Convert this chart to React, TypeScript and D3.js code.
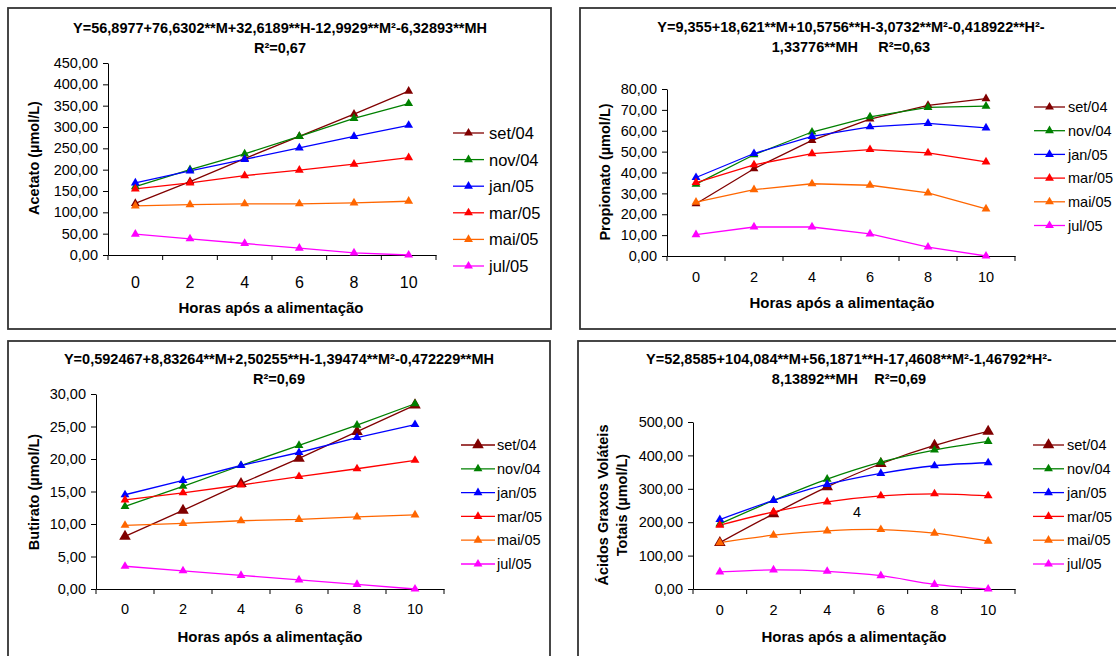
import { useEffect, useRef } from "react";
import * as d3 from "d3";

const hours = ["0", "2", "4", "6", "8", "10"];
const months = ["set/04", "nov/04", "jan/05", "mar/05", "mai/05", "jul/05"];
const monthColors = ["#800000", "#008000", "#0000ff", "#ff0000", "#ff6600", "#ff00ff"];

// one row per month, one value per hour after feeding
const acetato = [
  [121, 172, 226, 278, 330, 384],
  [160, 200, 237, 278, 320, 355],
  [169, 197, 224, 251, 278, 304],
  [155, 169, 186, 199, 213, 228],
  [115, 118, 120, 120, 122, 126],
  [49, 38, 27, 16, 5, 0],
];

const propionato = [
  [25, 41.8, 55.4, 65.6, 72.2, 75.4],
  [34.4, 48.5, 59.4, 66.7, 71.2, 71.8],
  [37.6, 49.1, 57.3, 61.9, 63.5, 61.4],
  [35.2, 43.7, 49, 51, 49.4, 45.1],
  [25.8, 31.8, 34.6, 33.9, 30.2, 22.6],
  [10.2, 13.9, 13.9, 10.6, 4.3, 0],
];

const butirato = [
  [8.1, 12.1, 16.2, 20.1, 24.2, 28.3],
  [12.7, 15.8, 19, 22.1, 25.2, 28.5],
  [14.5, 16.7, 19, 21, 23.3, 25.3],
  [13.7, 14.8, 16, 17.3, 18.5, 19.8],
  [9.8, 10.1, 10.5, 10.7, 11.1, 11.4],
  [3.5, 2.8, 2.1, 1.4, 0.7, 0],
];

const agvTotais = [
  [139, 225, 306, 375, 430, 472],
  [195, 265, 329, 380, 416, 442],
  [208, 265, 313, 346, 369, 378],
  [191, 231, 261, 279, 285, 279],
  [139, 161, 174, 178, 167, 143],
  [51, 57, 53, 40, 14, 0],
];

const FONT = "'Liberation Sans', Arial, Helvetica, sans-serif";
const br = d3.formatLocale({ decimal: ",", thousands: ".", grouping: [3], currency: ["R$", ""] });
const fmt = br.format(".2f");

const panels = [
  {
    values: acetato, yMax: 450, step: 50,
    frame: [8, 8, 543, 321],
    left: 108, right: 436, top: 63, bottom: 255,
    title: ["Y=56,8977+76,6302**M+32,6189**H-12,9929**M²-6,32893**MH", "R²=0,67"],
    titleX: 280, titleY: 28,
    yTitle: ["Acetato (µmol/L)"], yTitleX: 34, yTitleY: 158,
    xLabelY: 282, xTickSize: 16, xTitleX: 271, xTitleY: 308,
    legend: { x1: 453, x2: 484, tx: 489, y: 133, dy: 26.6, size: 16.5 },
    smooth: false, bigFirst: false,
  },
  {
    values: propionato, yMax: 80, step: 10,
    frame: [580, 8, 620, 321],
    left: 667, right: 1015, top: 89, bottom: 256,
    title: ["Y=9,355+18,621**M+10,5756**H-3,0732**M²-0,418922**H²-", "1,33776**MH     R²=0,63"],
    titleX: 851, titleY: 27,
    yTitle: ["Propionato (µmol/L)"], yTitleX: 605, yTitleY: 172,
    xLabelY: 277, xTickSize: 14.5, xTitleX: 842, xTitleY: 303,
    legend: { x1: 1034, x2: 1065, tx: 1068, y: 107, dy: 23.7, size: 14.5 },
    smooth: false, bigFirst: false,
  },
  {
    values: butirato, yMax: 30, step: 5,
    frame: [8, 341, 542, 400],
    left: 96, right: 444, top: 394, bottom: 589,
    title: ["Y=0,592467+8,83264**M+2,50255**H-1,39474**M²-0,472229**MH", "R²=0,69"],
    titleX: 279, titleY: 359,
    yTitle: ["Butirato (µmol/L)"], yTitleX: 34, yTitleY: 492,
    xLabelY: 609, xTickSize: 14.5, xTitleX: 270, xTitleY: 637,
    legend: { x1: 461, x2: 495, tx: 497, y: 445, dy: 23.8, size: 14.5 },
    smooth: false, bigFirst: true,
  },
  {
    values: agvTotais, yMax: 500, step: 100,
    frame: [578, 341, 620, 400],
    left: 693, right: 1015, top: 422, bottom: 589,
    title: ["Y=52,8585+104,084**M+56,1871**H-17,4608**M²-1,46792*H²-", "8,13892**MH    R²=0,69"],
    titleX: 849, titleY: 359,
    yTitle: ["Ácidos Graxos Voláteis", "Totais (µmol/L)"], yTitleX: 603, yTitleY: 505,
    xLabelY: 610, xTickSize: 14.5, xTitleX: 854, xTitleY: 637,
    legend: { x1: 1033, x2: 1064, tx: 1067, y: 445, dy: 23.8, size: 14.5 },
    smooth: true, bigFirst: true,
  },
];

function drawPanel(svg, p) {
  const g = svg.append("g");

  g.append("rect")
    .attr("x", p.frame[0]).attr("y", p.frame[1])
    .attr("width", p.frame[2]).attr("height", p.frame[3])
    .attr("fill", "#fff").attr("stroke", "#333").attr("stroke-width", 1.8);

  const x = d3.scaleBand().domain(hours).range([p.left, p.right]);
  const y = d3.scaleLinear().domain([0, p.yMax]).range([p.bottom, p.top]);

  // y axis
  const yAxis = d3.axisLeft(y)
    .tickValues(d3.range(0, p.yMax + p.step / 2, p.step))
    .tickFormat(fmt)
    .tickSize(5).tickSizeOuter(0).tickPadding(5);
  const ya = g.append("g").attr("transform", `translate(${p.left},0)`).call(yAxis);
  ya.selectAll("text").attr("font-size", 14.5).attr("font-family", FONT).attr("fill", "#000");
  ya.selectAll("line,path").attr("stroke", "#000");

  // x axis: labels centered in each band, ticks on the band edges
  const xAxis = d3.axisBottom(x).tickSize(0).tickSizeOuter(0)
    .tickPadding(p.xLabelY - p.bottom - 0.36 * p.xTickSize);
  const xa = g.append("g").attr("transform", `translate(0,${p.bottom})`).call(xAxis);
  xa.selectAll("text").attr("font-size", p.xTickSize).attr("font-family", FONT).attr("fill", "#000");
  xa.select(".domain").attr("stroke", "#000");
  xa.selectAll("line.edge")
    .data(hours.map(h => x(h)).concat([p.right]))
    .join("line")
    .attr("class", "edge")
    .attr("x1", d => d).attr("x2", d => d)
    .attr("y1", 0).attr("y2", 5)
    .attr("stroke", "#000");

  // titles
  const t = g.append("text")
    .attr("font-family", FONT).attr("font-weight", "bold").attr("font-size", 14.5)
    .attr("text-anchor", "middle").style("white-space", "pre");
  p.title.forEach((line, i) => {
    t.append("tspan").attr("x", p.titleX).attr("y", p.titleY + i * 20).attr("dy", "0.36em").text(line);
  });

  const yt = g.append("text")
    .attr("transform", `translate(${p.yTitleX},${p.yTitleY}) rotate(-90)`)
    .attr("font-family", FONT).attr("font-weight", "bold").attr("font-size", 14.5)
    .attr("text-anchor", "middle");
  p.yTitle.forEach((line, i) => {
    yt.append("tspan").attr("x", 0).attr("y", i * 19).attr("dy", "0.36em").text(line);
  });

  g.append("text")
    .attr("x", p.xTitleX).attr("y", p.xTitleY).attr("dy", "0.36em")
    .attr("font-family", FONT).attr("font-weight", "bold").attr("font-size", 15)
    .attr("text-anchor", "middle")
    .text("Horas após a alimentação");

  // series
  const line = d3.line()
    .x((d, i) => x(hours[i]) + x.bandwidth() / 2)
    .y(d => y(d))
    .curve(p.smooth ? d3.curveCatmullRom.alpha(0.5) : d3.curveLinear);

  const tri = d3.symbol(d3.symbolTriangle, 34);
  const bigTri = d3.symbol(d3.symbolTriangle, 58);

  p.values.forEach((vals, k) => {
    g.append("path").datum(vals)
      .attr("d", line)
      .attr("fill", "none")
      .attr("stroke", monthColors[k])
      .attr("stroke-width", 1.3);
  });
  p.values.forEach((vals, k) => {
    g.selectAll(null).data(vals).join("path")
      .attr("transform", (d, i) => `translate(${x(hours[i]) + x.bandwidth() / 2},${y(d)})`)
      .attr("d", p.bigFirst && k === 0 ? bigTri : tri)
      .attr("fill", monthColors[k]);
  });

  // legend
  const L = p.legend;
  months.forEach((m, k) => {
    const ly = L.y + k * L.dy;
    g.append("line")
      .attr("x1", L.x1).attr("x2", L.x2).attr("y1", ly).attr("y2", ly)
      .attr("stroke", monthColors[k]).attr("stroke-width", 1.3);
    g.append("path")
      .attr("transform", `translate(${(L.x1 + L.x2) / 2},${ly})`)
      .attr("d", p.bigFirst && k === 0 ? bigTri : tri)
      .attr("fill", monthColors[k]);
    g.append("text")
      .attr("x", L.tx).attr("y", ly).attr("dy", "0.36em")
      .attr("font-family", FONT).attr("font-size", L.size)
      .text(m);
  });

  return g;
}

export default function App() {
  const ref = useRef(null);

  useEffect(() => {
    const svg = d3.select(ref.current);
    svg.selectAll("*").remove();

    svg.append("rect").attr("width", 1116).attr("height", 656).attr("fill", "#fff");

    panels.forEach(p => drawPanel(svg, p));

    // stray label left inside the total VFA chart
    svg.append("text")
      .attr("x", 857).attr("y", 512).attr("dy", "0.36em")
      .attr("text-anchor", "middle")
      .attr("font-family", FONT).attr("font-size", 14.5)
      .text("4");
  }, []);

  return (
    <svg
      ref={ref}
      width={1116}
      height={656}
      style={{ position: "absolute", left: 0, top: 0, display: "block" }}
    />
  );
}
